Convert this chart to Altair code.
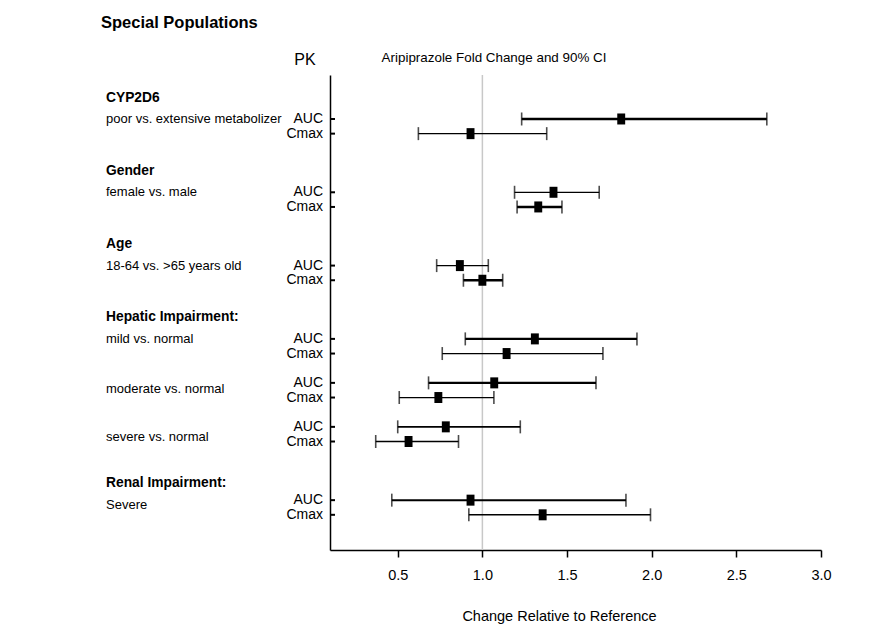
import altair as alt
import pandas as pd

# ---- data ----
pk = ["AUC", "Cmax", "AUC", "Cmax", "AUC", "Cmax", "AUC", "Cmax",
      "AUC", "Cmax", "AUC", "Cmax", "AUC", "Cmax"]
row_pos = [0, 1, 5, 6, 10, 11, 15, 16, 18, 19, 21, 22, 26, 27]
ratio = [1.82, 0.93, 1.42, 1.33, 0.867, 1.00, 1.31, 1.143,
         1.07, 0.74, 0.784, 0.564, 0.93, 1.356]
lower = [1.232, 0.622, 1.19, 1.205, 0.73, 0.888, 0.899, 0.763,
         0.682, 0.509, 0.50, 0.37, 0.465, 0.92]
upper = [2.68, 1.38, 1.69, 1.47, 1.035, 1.12, 1.913, 1.712,
         1.671, 1.068, 1.224, 0.859, 1.848, 1.993]

label_text = ["CYP2D6", "poor vs. extensive metabolizer",
              "Gender", "female vs. male",
              "Age", "18-64 vs. >65 years old",
              "Hepatic Impairment:", "mild vs. normal",
              "moderate vs. normal", "severe vs. normal",
              "Renal Impairment:", "Severe"]
label_row = [-1.4, 0, 3.55, 5, 8.55, 10, 13.5, 15, 18.4, 21.7, 24.8, 26.3]
label_kind = ["header", "detail", "header", "detail", "header", "detail",
              "header", "detail", "detail", "detail", "header", "detail"]

x_ticks = [0.5, 1.0, 1.5, 2.0, 2.5, 3.0]

# ---- styles (kept apart from the data) ----
ci_width = [2.4, 1.2, 1.2, 2.4, 1.2, 2.4, 2.4, 1.2, 2.2, 1.3, 1.6, 1.3, 2.0, 1.5]
FONT = "Liberation Sans, Arial, Helvetica"

df = pd.DataFrame({"pk": pk, "row": row_pos, "ratio": ratio,
                   "lower": lower, "upper": upper, "w": ci_width})
lab = pd.DataFrame({"text": label_text, "row": label_row, "kind": label_kind})

xscale = alt.Scale(domain=[0.1, 3.0], nice=False, zero=False)
yscale = alt.Scale(domain=[-3, 29.4], reverse=True, nice=False, zero=False)

base = alt.Chart(df)

x_axis = alt.Axis(values=x_ticks, format=".1f", grid=False, domainColor="black",
                  domainWidth=1.5, tickColor="black", tickWidth=1.5, tickSize=7,
                  labelFont=FONT, labelFontSize=14.5, labelColor="black",
                  labelPadding=11, labelFlush=False, labelOverlap=False,
                  title="Change Relative to Reference",
                  titleFont=FONT, titleFontSize=14.5, titleFontWeight="normal",
                  titleColor="black", titleX=229, titleY=70,
                  titleAlign="center", titleBaseline="alphabetic")
y_axis = alt.Axis(labels=False, ticks=False, grid=False, domainColor="black",
                  domainWidth=1.5, title=None)

ref = alt.Chart(pd.DataFrame({"v": [1.0]})).mark_rule(
    color="#c8c8c8", strokeWidth=1.5).encode(
    x=alt.X("v:Q", scale=xscale, axis=x_axis))

ci = base.mark_rule(color="black").encode(
    x=alt.X("lower:Q", scale=xscale),
    x2="upper:Q",
    y=alt.Y("row:Q", scale=yscale, axis=y_axis),
    strokeWidth=alt.StrokeWidth("w:Q", scale=None, legend=None))

cap_lo = base.mark_tick(orient="vertical", size=13, thickness=1.6, color="black").encode(
    x=alt.X("lower:Q", scale=xscale), y=alt.Y("row:Q", scale=yscale))
cap_hi = base.mark_tick(orient="vertical", size=13, thickness=1.6, color="black").encode(
    x=alt.X("upper:Q", scale=xscale), y=alt.Y("row:Q", scale=yscale))

pts = base.mark_point(shape="M-0.72,-1H0.72V1H-0.72Z", size=121,
                      filled=True, color="black", opacity=1).encode(
    x=alt.X("ratio:Q", scale=xscale), y=alt.Y("row:Q", scale=yscale))

yticks = base.mark_rule(color="black", strokeWidth=2).encode(
    x=alt.value(0), x2=alt.value(5), y=alt.Y("row:Q", scale=yscale))

pk_labels = base.mark_text(align="right", baseline="middle", font=FONT,
                           fontSize=14, color="black").encode(
    x=alt.value(-7), y=alt.Y("row:Q", scale=yscale), text="pk:N")

grp_head = alt.Chart(lab).transform_filter(alt.datum.kind == "header").mark_text(
    align="left", baseline="middle", font=FONT, fontSize=13.8,
    fontWeight="bold", color="black").encode(
    x=alt.value(-224), y=alt.Y("row:Q", scale=yscale), text="text:N")
grp_detail = alt.Chart(lab).transform_filter(alt.datum.kind == "detail").mark_text(
    align="left", baseline="middle", font=FONT, fontSize=13,
    color="black").encode(
    x=alt.value(-224), y=alt.Y("row:Q", scale=yscale), text="text:N")

titles = alt.Chart(pd.DataFrame({"t": ["Special Populations"]})).mark_text(
    align="left", baseline="alphabetic", font=FONT, fontSize=16.5,
    fontWeight="bold", color="black").encode(
    x=alt.value(-229), y=alt.value(-47), text="t:N")
pk_head = alt.Chart(pd.DataFrame({"t": ["PK"]})).mark_text(
    align="center", baseline="alphabetic", font=FONT, fontSize=16,
    color="black").encode(x=alt.value(-25), y=alt.value(-10), text="t:N")
sub_head = alt.Chart(pd.DataFrame({"t": ["Aripiprazole Fold Change and 90% CI"]})).mark_text(
    align="center", baseline="alphabetic", font=FONT, fontSize=13.4,
    color="black").encode(x=alt.value(164), y=alt.value(-13), text="t:N")

chart = alt.layer(ref, ci, cap_lo, cap_hi, pts, yticks, pk_labels, grp_head,
                  grp_detail, titles, pk_head, sub_head).properties(
    width=491, height=475,
    autosize=alt.AutoSizeParams(type="none"),
    padding={"left": 322, "top": 67, "right": 50, "bottom": 80},
).configure_view(strokeOpacity=0)

chart.save("out.html", embed_options={"renderer": "svg", "actions": False})
